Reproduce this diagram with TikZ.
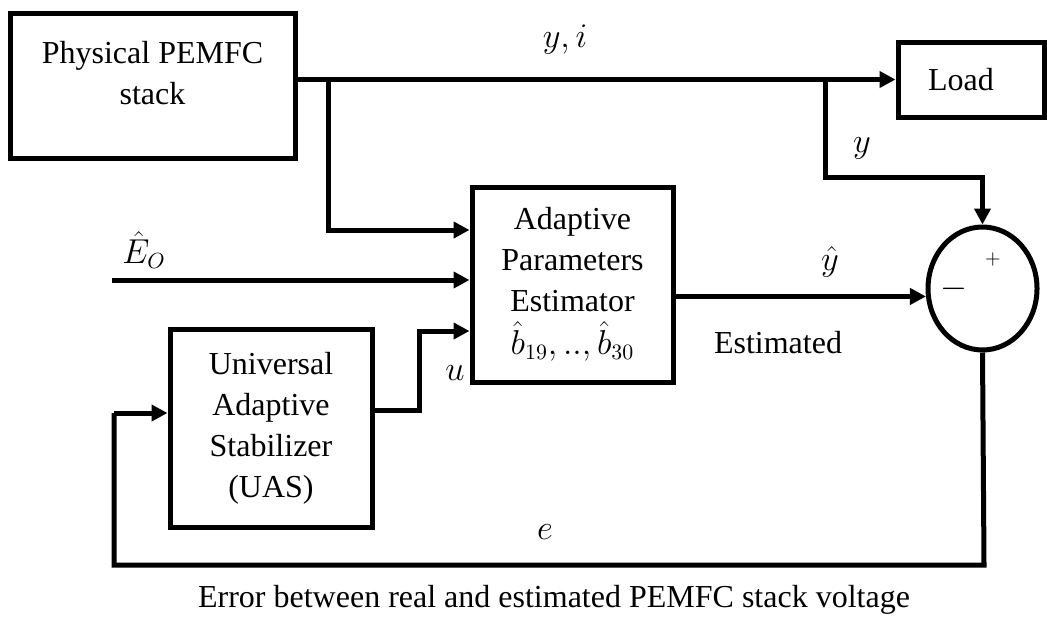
\documentclass[tikz,border=0pt]{standalone}
\usepackage{fontspec}
\setmainfont{Liberation Serif}
\usetikzlibrary{arrows.meta,shapes.geometric}
\tikzset{
  blk/.style={draw, line width=2.5pt, align=center, inner sep=0pt, font=\fontsize{16}{20.5}\selectfont},
  sumnode/.style={draw, ellipse, line width=2.5pt, inner sep=0pt},
  arr/.style={line width=2.5pt, -{Triangle[length=8pt,width=8pt]}},
  wire/.style={line width=2.5pt},
  lbl/.style={font=\fontsize{16}{20.5}\selectfont, inner sep=0pt}
}
\begin{document}
\begin{tikzpicture}[x=0.5pt,y=-0.5pt]
\useasboundingbox (0,0) rectangle (1047,621);
% blocks
\node[blk, minimum width=142.5pt, minimum height=72.5pt] (phys) at (152.5,85.5) {Physical PEMFC\\stack\\[-8pt]};
\node[blk, minimum width=100.5pt, minimum height=97.5pt] (ape) at (572.5,284.5) {Adaptive\\Parameters\\Estimator\\[1pt]$\hat{b}_{19},..,\hat{b}_{30}$};
\node[blk, minimum width=101pt, minimum height=99pt] (uas) at (271,428) {Universal\\Adaptive\\Stabilizer\\(UAS)};
\node[blk, minimum width=73pt, minimum height=37.5pt] (load) at (971,79.5) {\hspace*{-10pt}Load};
\node[sumnode, minimum width=54.5pt, minimum height=61.5pt] (sum) at (982.5,288.5) {};
\node[lbl, font=\fontsize{10}{12}\selectfont] (plus) at (993,259) {$+$};
\node[lbl, font=\fontsize{18}{20}\selectfont] (minus) at (954,289) {$-$};
% junctions and bends
\coordinate (j1) at (328,79.5);
\coordinate (j2) at (825,79.5);
\coordinate (yb) at (825,177);
\coordinate (eo) at (112,280);
\coordinate (ub) at (419,410);
\coordinate (fb1) at (984,565);
\coordinate (fb2) at (114,565);
\coordinate (fb3) at (114,413);
% connectors
\draw[arr] (phys.east |- load.west) -- (load.west);
\draw[arr] (j1) |- (ape.west |- 0,230);
\draw[arr] (eo) -- (ape.west |- eo);
\draw[arr] (uas.east |- ub) -| (ub |- 0,331) -- (ape.west |- 0,331);
\draw[arr] (ape.east |- sum.188) -- (sum.188);
\draw[arr] (j2) -- (yb) -| (sum.north);
\draw[wire] (sum.south) -- (fb1) -- (fb2) -- (fb3);
\draw[arr] (fb3) -- (uas.west |- fb3);
% labels
\node[lbl] (lyi) at (565,40) {$y,i$};
\node[lbl] (ly) at (862,148) {$y$};
\node[lbl] (lyh) at (830,262) {$\hat{y}$};
\node[lbl] (lest) at (778,343) {Estimated};
\node[lbl] (lu) at (455,373) {$u$};
\node[lbl] (le) at (545,532) {$e$};
\node[lbl] (leo) at (144,250) {$\hat{E}_O$};
\node[lbl] (cap) at (554,600) {Error between real and estimated PEMFC stack voltage};
\end{tikzpicture}
\end{document}
